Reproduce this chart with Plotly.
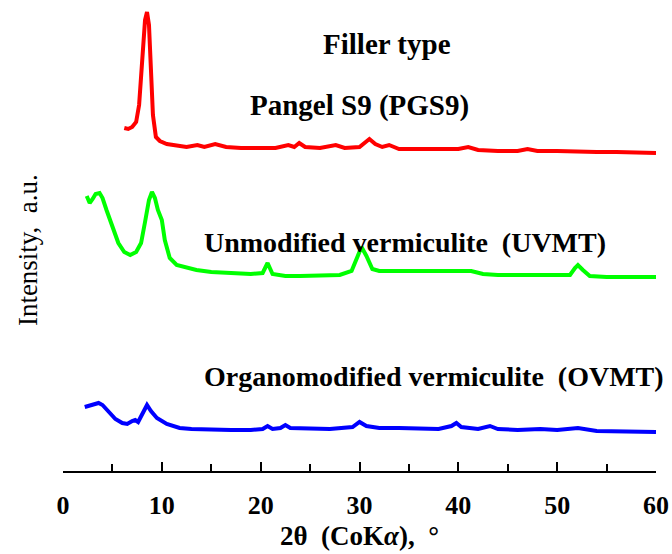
import plotly.graph_objects as go

# 2-theta positions (degrees) and intensities (a.u., curves offset vertically)
pgs9_2theta = [6.2, 6.6, 7.0, 7.4, 7.7, 8.0, 8.3, 8.5, 8.7, 8.9,
               9.1, 9.4, 9.8, 10.5, 11.5, 12.5, 13.6, 14.3, 15.4, 16.5,
               18, 19.5, 20.5, 21.5, 22.8, 23.4, 23.9, 24.5, 26, 27.6,
               28.5, 30, 31.0, 31.6, 32.3, 33.0, 34, 36, 38, 40,
               41, 42, 44, 46, 47, 48, 50, 52, 54, 56, 58, 60]
pgs9_int = [343, 342, 344, 349, 366, 411, 451, 459, 446, 401,
            356, 334, 330, 327, 325, 324, 326, 324, 327, 324,
            323, 323, 324, 323, 326, 324, 328, 324, 323, 326,
            323, 324, 332, 327, 324, 326, 322, 322, 321, 322,
            324, 321, 320, 320, 322, 320, 320, 319, 319, 319, 318, 318]

uvmt_2theta = [2.4, 2.7, 3.0, 3.3, 3.7, 4.0, 4.4, 5.0, 5.6, 6.2,
               6.8, 7.4, 7.9, 8.3, 8.7, 9.0, 9.3, 9.6, 10.0, 10.3,
               10.8, 11.5, 12.5, 13.5, 15, 17, 19, 20.2, 20.7, 21.2,
               22.5, 24, 26, 28, 29.2, 29.7, 30.2, 30.7, 31.3, 32,
               34, 36, 38, 40, 41.3, 42.5, 44, 46, 48, 50,
               51.3, 51.8, 52.1, 52.6, 53.3, 55, 57, 60]
uvmt_int = [275, 268, 272, 277, 278, 273, 261, 243, 228, 219,
            216, 219, 228, 249, 271, 279, 273, 261, 251, 231,
            213, 206, 203, 201, 199, 198, 197, 198, 208, 197,
            195, 195, 195, 196, 200, 213, 224, 215, 202, 200,
            200, 199, 199, 199, 200, 197, 196, 196, 196, 195,
            196, 203, 206, 201, 195, 194, 194, 194]

ovmt_2theta = [2.2, 2.6, 3.0, 3.6, 4.0, 4.6, 5.3, 6.0, 6.5, 7.0,
               7.3, 7.6, 8.0, 8.5, 8.9, 9.5, 10.5, 11.8, 13, 15,
               17, 19, 20.2, 20.7, 21.2, 22.0, 22.5, 23.0, 25, 27,
               29.3, 30.0, 30.7, 32, 34, 36, 38, 39.3, 39.8, 40.3,
               42, 43.2, 44, 46, 48.3, 50, 52.1, 54, 56, 58, 60]
ovmt_int = [64, 65, 66, 68, 66, 59, 52, 48, 47, 50,
            51, 49, 57, 66, 60, 53, 47, 43, 42, 41,
            41, 41, 42, 45, 42, 43, 46, 43, 42, 42,
            44, 49, 45, 43, 43, 42, 42, 45, 48, 44,
            42, 45, 42, 41, 42, 41, 43, 40, 40, 39, 39]

x_ticks = [0, 10, 20, 30, 40, 50, 60]

labels = ["Pangel S9 (PGS9)", "Unmodified vermiculite  (UVMT)", "Organomodified vermiculite  (OVMT)"]
header = "Filler type"
x_title = "2θ  (CoK<i>α</i>),  °"
y_title = "Intensity,  a.u."

FONT = "Liberation Serif, Times New Roman, serif"

fig = go.Figure()
fig.add_trace(go.Scatter(x=pgs9_2theta, y=pgs9_int, mode="lines",
                         line=dict(color="#ff0000", width=4), name=labels[0]))
fig.add_trace(go.Scatter(x=uvmt_2theta, y=uvmt_int, mode="lines",
                         line=dict(color="#00ff00", width=4), name=labels[1]))
fig.add_trace(go.Scatter(x=ovmt_2theta, y=ovmt_int, mode="lines",
                         line=dict(color="#0000ff", width=4), name=labels[2]))

ann_font = dict(family=FONT, size=28, color="black")
fig.add_annotation(x=32.8, y=427, xref="x", yref="y", text="<b>" + header + "</b>",
                   showarrow=False, font=dict(family=FONT, size=29, color="black"))
fig.add_annotation(x=30.05, y=366, xref="x", yref="y", text="<b>" + labels[0] + "</b>",
                   showarrow=False, font=dict(family=FONT, size=29, color="black"))
fig.add_annotation(x=34.6, y=229, xref="x", yref="y", text="<b>" + labels[1] + "</b>",
                   showarrow=False, font=ann_font)
fig.add_annotation(x=37.5, y=95, xref="x", yref="y", text="<b>" + labels[2] + "</b>",
                   showarrow=False, font=ann_font)
fig.add_annotation(x=-0.059, y=0.469, xref="paper", yref="paper", text=y_title,
                   textangle=-90, showarrow=False, xanchor="center", yanchor="middle",
                   font=dict(family=FONT, size=27, color="black"))
fig.add_annotation(x=0.5008, y=-0.138, xref="paper", yref="paper", text="<b>" + x_title + "</b>",
                   showarrow=False, xanchor="center", yanchor="middle",
                   font=dict(family=FONT, size=27, color="black"))

fig.update_layout(
    width=672, height=554,
    margin=dict(l=63, r=16, t=0, b=83),
    paper_bgcolor="white", plot_bgcolor="white",
    showlegend=False,
    font=dict(family=FONT, color="black"),
)
fig.update_xaxes(
    range=[0, 60], tickvals=x_ticks, ticktext=["<b>%d</b>" % v for v in x_ticks],
    showline=True, linecolor="black", linewidth=2,
    ticks="inside", ticklen=9, tickwidth=1.5, tickcolor="black",
    minor=dict(ticks="inside", ticklen=7, dtick=5, tickwidth=1.5, tickcolor="black"),
    showgrid=False, zeroline=False,
    tickfont=dict(family=FONT, size=26, color="black"),
    ticklabelstandoff=10,
)
fig.update_yaxes(range=[0, 471], visible=False)

fig.write_html("out.html")
